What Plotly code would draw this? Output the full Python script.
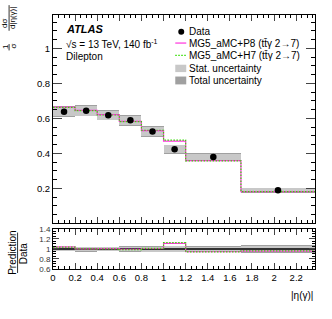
import plotly.graph_objects as go

# ---------------- data ----------------
bin_edges = [0.0, 0.2, 0.4, 0.6, 0.8, 1.0, 1.2, 1.7, 2.37]
data_vals = [0.638, 0.644, 0.617, 0.589, 0.525, 0.423, 0.379, 0.189]
tot_unc = [0.031, 0.032, 0.029, 0.031, 0.030, 0.026, 0.021, 0.015]
stat_unc = [0.027, 0.028, 0.025, 0.027, 0.026, 0.022, 0.018, 0.012]
p8_vals = [0.664, 0.646, 0.621, 0.583, 0.530, 0.470, 0.358, 0.181]
h7_vals = [0.662, 0.644, 0.619, 0.581, 0.532, 0.476, 0.357, 0.182]
x_ticks = [0, 0.2, 0.4, 0.6, 0.8, 1, 1.2, 1.4, 1.6, 1.8, 2, 2.2]
x_tick_labels = ["0", "0.2", "0.4", "0.6", "0.8", "1", "1.2", "1.4", "1.6", "1.8", "2", "2.2"]

# -------------- derived ----------------
lefts = bin_edges[:-1]
widths = [bin_edges[i + 1] - bin_edges[i] for i in range(len(lefts))]
centers = [(bin_edges[i] + bin_edges[i + 1]) / 2 for i in range(len(lefts))]
r_p8 = [p / d for p, d in zip(p8_vals, data_vals)]
r_h7 = [h / d for h, d in zip(h7_vals, data_vals)]
r_tot = [u / d for u, d in zip(tot_unc, data_vals)]
r_stat = [u / d for u, d in zip(stat_unc, data_vals)]

MAG = "#ff33dd"
GRN = "#33dd00"
STAT = "#c8c8c8"
TOT = "#a0a0a0"
FONT = "Liberation Sans, Arial, sans-serif"
DOT = "1.5px,1.5px"

fig = go.Figure()


def band(vals, unc, color, xa, ya):
    fig.add_trace(go.Bar(
        x=lefts, y=[2 * u for u in unc], base=[v - u for v, u in zip(vals, unc)],
        width=widths, offset=0, marker=dict(color=color, line=dict(width=0)),
        xaxis=xa, yaxis=ya, showlegend=False, hoverinfo="skip"))


def step(vals, color, dash, xa, ya, width=1.2):
    fig.add_trace(go.Scatter(
        x=bin_edges, y=list(vals) + [vals[-1]], mode="lines",
        line=dict(shape="hv", color=color, dash=dash, width=width),
        xaxis=xa, yaxis=ya, showlegend=False, hoverinfo="skip"))


# main panel
band(data_vals, tot_unc, TOT, "x", "y")
band(data_vals, stat_unc, STAT, "x", "y")
step(p8_vals, MAG, "solid", "x", "y")
step(h7_vals, GRN, DOT, "x", "y")
fig.add_trace(go.Scatter(x=centers, y=data_vals, mode="markers",
                         marker=dict(color="black", size=6.5), showlegend=False,
                         xaxis="x", yaxis="y"))

# ratio panel
band([1] * len(lefts), r_tot, TOT, "x2", "y2")
band([1] * len(lefts), r_stat, STAT, "x2", "y2")
step([1] * len(lefts), "black", "solid", "x2", "y2", 1.5)
step(r_p8, MAG, "solid", "x2", "y2")
step(r_h7, GRN, DOT, "x2", "y2")

W, H = 332, 319
L, R, T, B = 52.5, 17, 11, 50
pw, ph = W - L - R, H - T - B


def px(xp):
    return (xp - L) / pw


def py(yp):
    return (H - B - yp) / ph


main_dom = [py(222.7), 1.0]
rat_dom = [0.0, py(228.3)]

axis_common = dict(showline=True, linecolor="black", linewidth=1, mirror="ticks",
                   ticks="inside", showgrid=False, zeroline=False)

fig.update_layout(
    width=W, height=H, margin=dict(l=L, r=R, t=T, b=B),
    paper_bgcolor="white", plot_bgcolor="white", showlegend=False,
    barmode="overlay", bargap=0,
    font=dict(family=FONT, color="black"),
    xaxis=dict(domain=[0, 1], range=[0, 2.37], anchor="y", showticklabels=False,
               tickvals=x_ticks, ticklen=6,
               minor=dict(ticks="inside", dtick=0.05, tick0=0, ticklen=3, tickcolor="black"),
               **axis_common),
    yaxis=dict(domain=main_dom, range=[0, 1.19], anchor="x",
               tickvals=[0.2, 0.4, 0.6, 0.8, 1.0], ticktext=["0.2", "0.4", "0.6", "0.8", "1"],
               ticklen=9, tickfont=dict(family=FONT, size=9.5, color="black"),
               minor=dict(ticks="inside", dtick=0.05, tick0=0, ticklen=4, tickcolor="black"),
               **axis_common),
    xaxis2=dict(domain=[0, 1], range=[0, 2.37], anchor="y2", matches="x",
                tickvals=x_ticks, ticktext=x_tick_labels, ticklen=6,
                tickfont=dict(family=FONT, size=9.5, color="black"),
                minor=dict(ticks="inside", dtick=0.05, tick0=0, ticklen=3, tickcolor="black"),
                **axis_common),
    yaxis2=dict(domain=rat_dom, range=[0.6, 1.4], anchor="x2",
                tickvals=[0.6, 0.8, 1.0, 1.2, 1.4], ticktext=["0.6", "0.8", "1", "1.2", "1.4"],
                ticklen=6, tickfont=dict(family=FONT, size=8, color="#333"),
                minor=dict(ticks="inside", dtick=0.05, tick0=0.6, ticklen=3, tickcolor="black"),
                **axis_common),
)

ann = []
shapes = []


def text(x, y, s, size=10, anchor="left", angle=0):
    ann.append(dict(x=px(x), y=py(y), xref="paper", yref="paper", text=s, showarrow=False,
                    xanchor=anchor, yanchor="middle", textangle=angle,
                    font=dict(family=FONT, size=size, color="black")))


# ATLAS label
text(64, 25, "<b><i>ATLAS</i></b>", size=11)
text(64, 40, "√s = 13 TeV, 140 fb<sup>-1</sup>", size=10)
text(64, 53, "Dilepton", size=10)

# legend
lx0, lx1 = 175, 186
text(187, 28, "Data", size=10)
text(187, 40, "MG5_aMC+P8 (tt̄γ 2→7)", size=10)
text(187, 52, "MG5_aMC+H7 (tt̄γ 2→7)", size=10)
text(187, 65, "Stat. uncertainty", size=10)
text(187, 77.5, "Total uncertainty", size=10)
shapes.append(dict(type="circle", xref="paper", yref="paper", x0=px(178), x1=px(184),
                   y0=py(31), y1=py(25), fillcolor="black", line=dict(width=0)))
shapes.append(dict(type="line", xref="paper", yref="paper", x0=px(lx0), x1=px(lx1),
                   y0=py(39.5), y1=py(39.5), line=dict(color=MAG, width=1.2)))
shapes.append(dict(type="line", xref="paper", yref="paper", x0=px(lx0), x1=px(lx1),
                   y0=py(52), y1=py(52), line=dict(color=GRN, width=1.2, dash=DOT)))
shapes.append(dict(type="rect", xref="paper", yref="paper", x0=px(lx0), x1=px(lx1),
                   y0=py(69), y1=py(61.5), fillcolor=STAT, line=dict(width=0)))
shapes.append(dict(type="rect", xref="paper", yref="paper", x0=px(lx0), x1=px(lx1),
                   y0=py(81.5), y1=py(73.5), fillcolor=TOT, line=dict(width=0)))

# main y-axis title (fraction)
text(5, 43, "1", size=8, anchor="center", angle=-90)
text(12.5, 43, "σ", size=8, anchor="center", angle=-90)
text(4.5, 20, "dσ", size=8, anchor="center", angle=-90)
text(12.5, 14, "d|η(γ)|", size=8, anchor="center", angle=-90)
shapes.append(dict(type="line", xref="paper", yref="paper", x0=px(8.5), x1=px(8.5),
                   y0=py(40.5), y1=py(47), line=dict(color="black", width=0.8)))
shapes.append(dict(type="line", xref="paper", yref="paper", x0=px(8.5), x1=px(8.5),
                   y0=py(1), y1=py(27), line=dict(color="black", width=0.8)))

# ratio y-axis title
text(12, 253, "Prediction", size=10, anchor="center", angle=-90)
text(22.5, 253, "Data", size=10, anchor="center", angle=-90)
shapes.append(dict(type="line", xref="paper", yref="paper", x0=px(17), x1=px(17),
                   y0=py(273), y1=py(232), line=dict(color="black", width=0.8)))

# x-axis title
text(315, 296, "|η(γ)|", size=10, anchor="right")

fig.update_layout(annotations=ann, shapes=shapes)
fig.write_html("out.html", config={"displayModeBar": False},
               post_script="document.body.style.margin='0px';document.body.style.overflow='hidden';")
